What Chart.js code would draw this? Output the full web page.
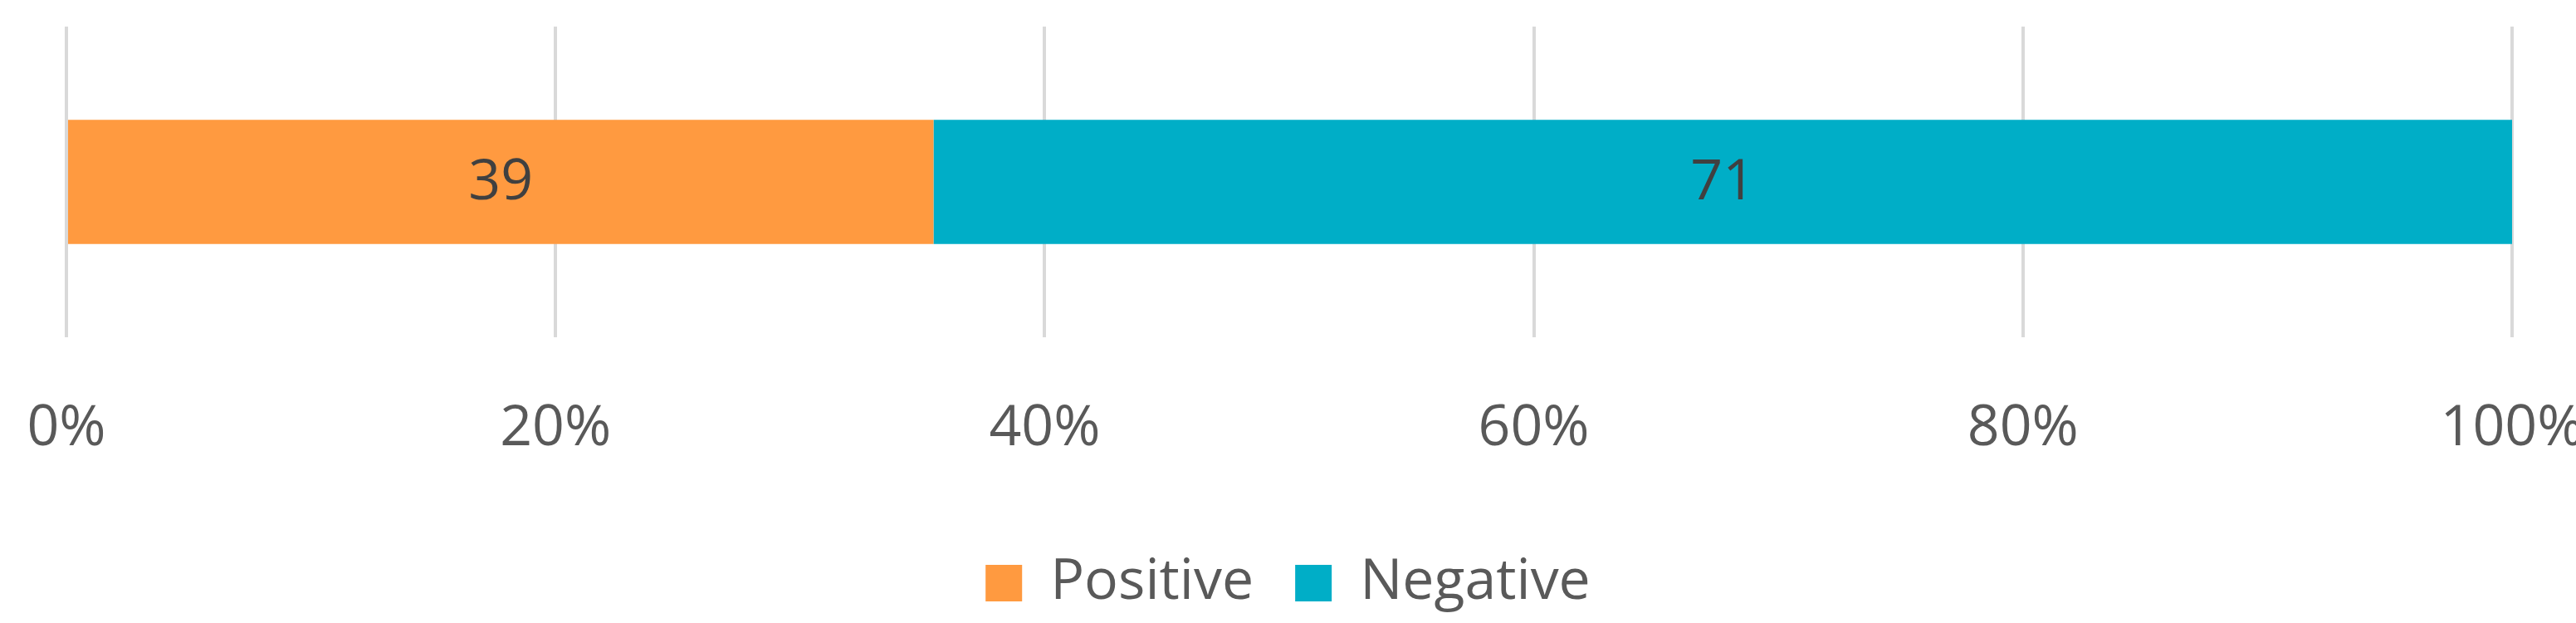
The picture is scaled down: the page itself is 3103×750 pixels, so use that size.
<!DOCTYPE html>
<html>
<head>
<meta charset="utf-8">
<script src="https://cdn.jsdelivr.net/npm/chart.js@4"></script>
<style>
  html, body { margin: 0; padding: 0; background: #fff; }
  canvas { display: block; }
</style>
</head>
<body>
<canvas id="chart" width="3103" height="750"></canvas>
<script>
const categories = ['Sentiment'];
const positiveCounts = [39];
const negativeCounts = [71];
const tickValues = [0, 20, 40, 60, 80, 100];

const totals = positiveCounts.map((v, i) => v + negativeCounts[i]);
const toPct = (arr) => arr.map((v, i) => v / totals[i] * 100);

// draws the raw counts in the middle of each bar segment
const barLabels = {
  id: 'barLabels',
  afterDatasetsDraw(chart) {
    const ctx = chart.ctx;
    ctx.save();
    ctx.fillStyle = '#404040';
    ctx.font = '68px "Open Sans", sans-serif';
    ctx.textAlign = 'center';
    ctx.textBaseline = 'middle';
    chart.data.datasets.forEach((ds, di) => {
      chart.getDatasetMeta(di).data.forEach((bar, i) => {
        const p = bar.getProps(['x', 'base', 'y'], true);
        ctx.fillText(ds.counts[i], (p.x + p.base) / 2, p.y + 2);
      });
    });
    ctx.restore();
  }
};

const ctx = document.getElementById('chart').getContext('2d');
new Chart(ctx, {
  type: 'bar',
  data: {
    labels: categories,
    datasets: [
      { label: 'Positive', data: toPct(positiveCounts), counts: positiveCounts, backgroundColor: '#FF9A40' },
      { label: 'Negative', data: toPct(negativeCounts), counts: negativeCounts, backgroundColor: '#00AEC7' }
    ]
  },
  plugins: [barLabels],
  options: {
    indexAxis: 'y',
    responsive: false,
    animation: false,
    layout: { padding: { top: 32, left: 0, right: 0, bottom: 4 } },
    datasets: { bar: { barPercentage: 0.4, categoryPercentage: 1.0 } },
    plugins: {
      tooltip: { enabled: false },
      legend: {
        position: 'bottom',
        labels: {
          color: '#595959',
          font: { size: 68, family: '"Open Sans", sans-serif' },
          boxWidth: 44, boxHeight: 44, padding: 50
        }
      }
    },
    scales: {
      x: {
        stacked: true,
        min: 0, max: 100,
        afterBuildTicks: (s) => { s.ticks = tickValues.map(v => ({ value: v })); },
        afterFit: (s) => { s.height = 212; s.paddingLeft = 80; s.paddingRight = 77; },
        ticks: {
          color: '#595959',
          padding: 70,
          font: { size: 68, family: '"Open Sans", sans-serif' },
          callback: (v) => v + '%'
        },
        grid: { color: '#D9D9D9', lineWidth: 4, drawTicks: false },
        border: { display: false }
      },
      y: {
        stacked: true,
        ticks: { display: false },
        grid: { display: false },
        border: { display: false }
      }
    }
  }
});
</script>
</body>
</html>
